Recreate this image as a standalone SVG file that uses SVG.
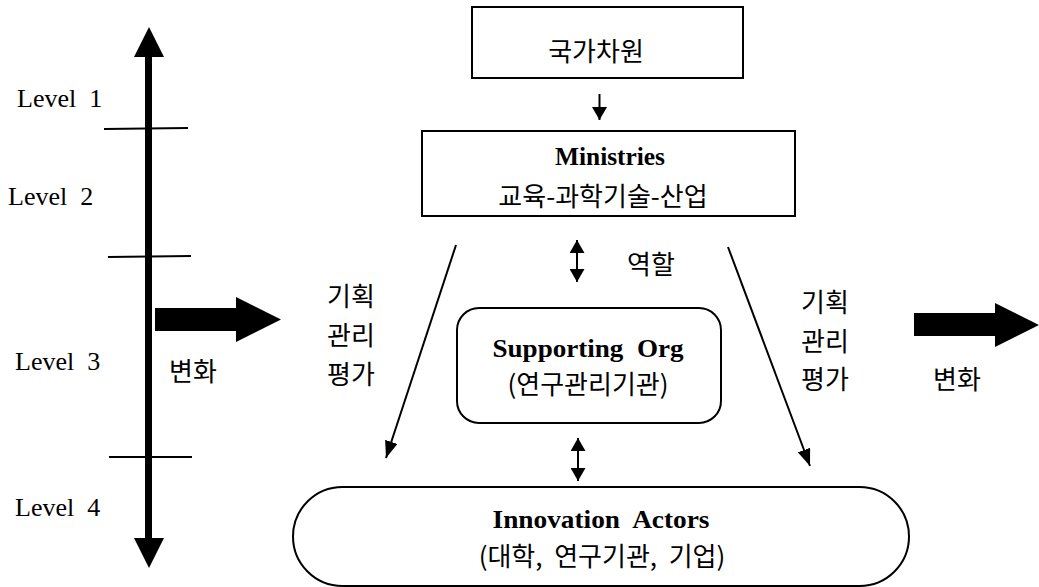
<svg xmlns="http://www.w3.org/2000/svg" width="1039" height="587" viewBox="0 0 1039 587">
<style>
.box{fill:#fff;stroke:#000;stroke-width:2}
.ln{stroke:#000;stroke-width:2;fill:none}
.en{font-family:"Liberation Serif","Noto Sans CJK KR",serif;fill:#000}
.ko{font-family:"Noto Sans CJK KR",sans-serif;font-size:26px;fill:#000}
.lvl{font-size:26px}
.b{font-size:25px;font-weight:bold}
.blk{fill:#000}
</style>
<defs>
<marker id="ahS" viewBox="0 0 13 15" refX="13" refY="7.5" markerWidth="13" markerHeight="15" markerUnits="userSpaceOnUse" orient="auto-start-reverse"><path d="M0,0 L13,7.5 L0,15 z" fill="#000"/></marker>
<marker id="ahD" viewBox="0 0 17 13" refX="17" refY="6.5" markerWidth="17" markerHeight="13" markerUnits="userSpaceOnUse" orient="auto"><path d="M0,0 L17,6.5 L0,13 z" fill="#000"/></marker>
</defs>
<rect width="1039" height="587" fill="#fff"/>

<g id="axis">
<rect class="blk" x="145" y="56" width="7" height="483"/>
<polygon class="blk" points="134,57 164,57 149,27"/>
<polygon class="blk" points="134,538 164,538 149,568"/>
<line class="ln" x1="104" y1="129" x2="188" y2="128"/>
<line class="ln" x1="108" y1="257" x2="191" y2="256"/>
<line class="ln" x1="109" y1="457" x2="192" y2="457"/>
<text class="en lvl" x="17" y="107">Level&#160; 1</text>
<text class="en lvl" x="8" y="205">Level&#160; 2</text>
<text class="en lvl" x="15" y="370">Level&#160; 3</text>
<text class="en lvl" x="15" y="516">Level&#160; 4</text>
</g>

<g id="change-left">
<polygon class="blk" points="155,308 236,308 236,297 281,319.5 236,342 236,331 155,331"/>
<text class="ko" x="169" y="381">변화</text>
</g>

<g id="change-right">
<polygon class="blk" points="914,313 995,313 995,303 1039,325 995,347 995,336 914,336"/>
<text class="ko" x="933" y="389">변화</text>
</g>

<g id="national">
<rect class="box" x="472" y="7" width="271" height="71"/>
<text class="ko" x="596" y="61" text-anchor="middle">국가차원</text>
</g>

<g id="ministries">
<rect class="box" x="422" y="131" width="373" height="85"/>
<text class="en b" x="610" y="165" text-anchor="middle" textLength="110" lengthAdjust="spacingAndGlyphs">Ministries</text>
<text class="ko" x="603" y="206" text-anchor="middle">교육-과학기술-산업</text>
</g>

<g id="supporting">
<rect class="box" x="457" y="308" width="264" height="115" rx="22" ry="22"/>
<text class="en b" x="588" y="357" text-anchor="middle" textLength="191" lengthAdjust="spacingAndGlyphs">Supporting&#160; Org</text>
<text class="ko" x="588" y="394" text-anchor="middle">(연구관리기관)</text>
</g>

<g id="actors">
<rect class="box" x="293" y="487" width="616" height="99" rx="49.5" ry="49.5"/>
<text class="en b" x="601" y="528" text-anchor="middle" textLength="217" lengthAdjust="spacingAndGlyphs">Innovation&#160; Actors</text>
<text class="ko" x="602" y="566" text-anchor="middle">(대학,&#160; 연구기관,&#160; 기업)</text>
</g>

<g id="labels">
<text class="ko" x="627" y="274">역할</text>
<text class="ko" x="327" y="306">기획</text>
<text class="ko" x="327" y="345">관리</text>
<text class="ko" x="327" y="384">평가</text>
<text class="ko" x="801" y="312">기획</text>
<text class="ko" x="801" y="351">관리</text>
<text class="ko" x="801" y="389">평가</text>
</g>

<g id="connectors">
<line class="ln" x1="599.5" y1="94" x2="599.5" y2="120" marker-end="url(#ahS)"/>
<line class="ln" x1="577" y1="240" x2="577" y2="282" marker-start="url(#ahS)" marker-end="url(#ahS)"/>
<line class="ln" x1="578" y1="438" x2="578" y2="481" marker-start="url(#ahS)" marker-end="url(#ahS)"/>
<line class="ln" x1="456" y1="245" x2="386" y2="458" marker-end="url(#ahD)"/>
<line class="ln" x1="728" y1="247" x2="810" y2="466" marker-end="url(#ahD)"/>
</g>
</svg>
